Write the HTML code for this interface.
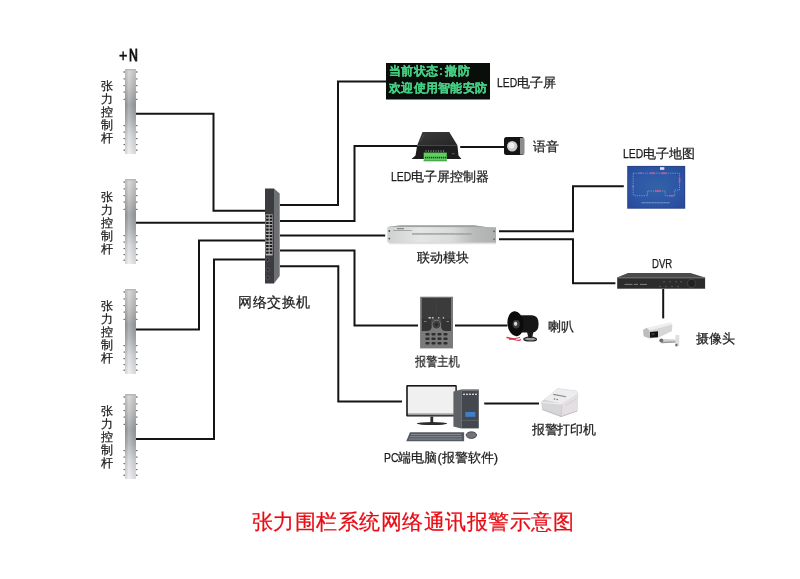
<!DOCTYPE html>
<html><head><meta charset="utf-8">
<style>
html,body{margin:0;padding:0;background:#fff;}
body{width:800px;height:579px;position:relative;overflow:hidden;font-family:"Liberation Sans",sans-serif;color:#1c1c1c;}
.t{position:absolute;white-space:nowrap;line-height:1;font-size:13px;-webkit-text-stroke-width:0.25px;will-change:transform;}
.vt{position:absolute;width:14px;font-size:12px;line-height:13px;text-align:center;color:#1c1c1c;-webkit-text-stroke-width:0.25px;will-change:transform;}
.lat{display:inline-block;transform:scaleX(.8);transform-origin:0 50%;}
svg{position:absolute;left:0;top:0;}
</style></head><body>
<svg width="800" height="579" viewBox="0 0 800 579">
<defs>
<linearGradient id="pg" x1="0" y1="0" x2="0" y2="1">
<stop offset="0" stop-color="#d6d6d6"/>
<stop offset="0.2" stop-color="#c2c2c2"/>
<stop offset="0.42" stop-color="#9ca0a4"/>
<stop offset="0.58" stop-color="#b0b3b6"/>
<stop offset="0.78" stop-color="#d8dadd"/>
<stop offset="1" stop-color="#f0f0f3"/>
</linearGradient>
<linearGradient id="ph" x1="0" y1="0" x2="1" y2="0">
<stop offset="0" stop-color="#000" stop-opacity="0.12"/>
<stop offset="0.35" stop-color="#fff" stop-opacity="0.15"/>
<stop offset="1" stop-color="#000" stop-opacity="0.1"/>
</linearGradient>
<g id="pole">
<rect x="0" y="0" width="11" height="85" fill="url(#pg)"/>
<rect x="0" y="0" width="11" height="85" fill="url(#ph)"/>
<rect x="0" y="0" width="11" height="1.5" fill="#b8b8b8"/>
<g fill="#707070">
<rect x="-1.5" y="2.3" width="1.5" height="1.4"/><rect x="11" y="2.3" width="1.5" height="1.4"/>
<rect x="-1.5" y="9.3" width="1.5" height="1.2"/><rect x="11" y="9.3" width="1.5" height="1.2"/>
<rect x="-1.5" y="16" width="1.5" height="1.2"/><rect x="11" y="16" width="1.5" height="1.2"/>
<rect x="-1.5" y="22.5" width="1.5" height="1.2"/><rect x="11" y="22.5" width="1.5" height="1.2"/>
<rect x="-1.5" y="29.8" width="1.5" height="1.2"/><rect x="11" y="29.8" width="1.5" height="1.2"/>
<rect x="-1.5" y="56" width="1.5" height="1.2"/><rect x="11" y="56" width="1.5" height="1.2"/>
<rect x="-1.5" y="62.5" width="1.5" height="1.2"/><rect x="11" y="62.5" width="1.5" height="1.2"/>
<rect x="-1.5" y="69" width="1.5" height="1.2"/><rect x="11" y="69" width="1.5" height="1.2"/>
<rect x="-1.5" y="75" width="1.5" height="1.2"/><rect x="11" y="75" width="1.5" height="1.2"/>
<rect x="-1.5" y="80.5" width="1.5" height="1.4"/><rect x="11" y="80.5" width="1.5" height="1.4"/>
</g>
</g>
<linearGradient id="modg" x1="0" y1="0" x2="1" y2="0">
<stop offset="0" stop-color="#cfd1d1"/>
<stop offset="0.3" stop-color="#e4e5e5"/>
<stop offset="0.6" stop-color="#d9dada"/>
<stop offset="0.8" stop-color="#b9bbbb"/>
<stop offset="1" stop-color="#aeb0b0"/>
</linearGradient>
<radialGradient id="mapg" cx="0.5" cy="0.5" r="0.7">
<stop offset="0" stop-color="#3363a6"/>
<stop offset="0.6" stop-color="#2d56a6"/>
<stop offset="1" stop-color="#28499a"/>
</radialGradient>
</defs>

<use href="#pole" x="125" y="69"/>
<use href="#pole" x="125" y="179"/>
<use href="#pole" x="125" y="289"/>
<use href="#pole" x="125" y="394"/>

<g fill="none" stroke="#141414" stroke-width="2">
<polyline points="136,113.8 213.5,113.8 213.5,210.8 265,210.8"/>
<polyline points="136,222.8 265,222.8"/>
<polyline points="136,329.5 199,329.5 199,240.4 265,240.4"/>
<polyline points="136,439 214,439 214,259.5 265,259.5"/>
<polyline points="280,205 338,205 338,81.5 386,81.5"/>
<polyline points="280,221 354.5,221 354.5,146 417,146"/>
<polyline points="280,235.6 385.2,235.6"/>
<polyline points="280,250.5 354.5,250.5 354.5,325.5 418,325.5"/>
<polyline points="280,266.2 338.3,266.2 338.3,401.6 402,401.6"/>
<polyline points="460.2,147 504,147"/>
<polyline points="499,231.3 573,231.3 573,186.2 623.8,186.2"/>
<polyline points="499,239.2 573,239.2 573,283.2 615.4,283.2"/>
<polyline points="663.2,289 663.2,318.4"/>
<polyline points="455,325.6 507.5,325.6"/>
<polyline points="484.2,403.5 539,403.5"/>
</g>

<!-- switch -->
<polygon points="265,188.5 274,188.5 274,283.5 265,283.5" fill="#3b3c3f"/>
<polygon points="274,188.5 279.7,193.6 279.7,276 274,283.5" fill="#6e6f72"/>
<rect x="265.6" y="214.4" width="7" height="41" fill="#b8b8b8"/>
<g fill="#161616">
<rect x="266.1" y="215.3" width="2.6" height="2.1"/><rect x="269.6" y="215.3" width="2.6" height="2.1"/>
<rect x="266.1" y="218.6" width="2.6" height="2.1"/><rect x="269.6" y="218.6" width="2.6" height="2.1"/>
<rect x="266.1" y="221.9" width="2.6" height="2.1"/><rect x="269.6" y="221.9" width="2.6" height="2.1"/>
<rect x="266.1" y="225.2" width="2.6" height="2.1"/><rect x="269.6" y="225.2" width="2.6" height="2.1"/>
<rect x="266.1" y="228.5" width="2.6" height="2.1"/><rect x="269.6" y="228.5" width="2.6" height="2.1"/>
<rect x="266.1" y="231.8" width="2.6" height="2.1"/><rect x="269.6" y="231.8" width="2.6" height="2.1"/>
<rect x="266.1" y="235.1" width="2.6" height="2.1"/><rect x="269.6" y="235.1" width="2.6" height="2.1"/>
<rect x="266.1" y="238.4" width="2.6" height="2.1"/><rect x="269.6" y="238.4" width="2.6" height="2.1"/>
<rect x="266.1" y="241.7" width="2.6" height="2.1"/><rect x="269.6" y="241.7" width="2.6" height="2.1"/>
<rect x="266.1" y="245.0" width="2.6" height="2.1"/><rect x="269.6" y="245.0" width="2.6" height="2.1"/>
<rect x="266.1" y="248.3" width="2.6" height="2.1"/><rect x="269.6" y="248.3" width="2.6" height="2.1"/>
<rect x="266.1" y="251.6" width="2.6" height="2.1"/><rect x="269.6" y="251.6" width="2.6" height="2.1"/>
</g>
<g fill="#1e1e1e" stroke="#6a6a6a" stroke-width="0.8">
<circle cx="267.7" cy="259.7" r="1.6"/><circle cx="267.7" cy="269.7" r="1.6"/><circle cx="267.7" cy="277.7" r="1.6"/>
</g>

<!-- LED screen -->
<rect x="386" y="63" width="104" height="36.5" fill="#0a0e0b"/>

<!-- controller -->
<linearGradient id="ctg" x1="0" y1="0" x2="1" y2="1"><stop offset="0" stop-color="#3a3a3a"/><stop offset="1" stop-color="#262626"/></linearGradient>
<polygon points="422.5,131.9 449.3,131.9 457.4,145.3 417.2,145.3" fill="url(#ctg)"/>
<polygon points="417.2,145.3 457.4,145.3 458.5,155.5 461.5,159.1 411.5,159.1 415.5,155.5" fill="#1d1d1d"/>
<line x1="424.5" y1="134" x2="420" y2="142" stroke="#5a5a5a" stroke-width="0.5"/>
<rect x="423.7" y="152.6" width="23.1" height="8.6" fill="#5ccf60"/>
<rect x="423.7" y="160" width="23.1" height="1.2" fill="#4aa84e"/>
<g fill="#1f3f20">
<rect x="425" y="156.8" width="1.3" height="1.6"/><rect x="427" y="156.8" width="1.3" height="1.6"/><rect x="429" y="156.8" width="1.3" height="1.6"/><rect x="431" y="156.8" width="1.3" height="1.6"/><rect x="433" y="156.8" width="1.3" height="1.6"/><rect x="435" y="156.8" width="1.3" height="1.6"/><rect x="437" y="156.8" width="1.3" height="1.6"/><rect x="439" y="156.8" width="1.3" height="1.6"/><rect x="441" y="156.8" width="1.3" height="1.6"/><rect x="443" y="156.8" width="1.3" height="1.6"/><rect x="445" y="156.8" width="1.2" height="1.6"/>
</g>
<g fill="#bdbdbd">
<rect x="425.5" y="150.5" width="1" height="1"/><rect x="428" y="150.5" width="1" height="1"/><rect x="430.5" y="150.5" width="1" height="1"/><rect x="433" y="150.5" width="1" height="1"/><rect x="435.5" y="150.5" width="1" height="1"/><rect x="438" y="150.5" width="1" height="1"/><rect x="440.5" y="150.5" width="1" height="1"/><rect x="443" y="150.5" width="1" height="1"/>
</g>
<rect x="452" y="153" width="2.5" height="1.2" fill="#555"/>
<!-- speaker -->
<rect x="504" y="137" width="20.2" height="18" rx="2.5" fill="#141414"/>
<rect x="520" y="138" width="4.2" height="16.5" fill="#8d8d8d"/>
<circle cx="512.2" cy="146.3" r="5.2" fill="#c9c9c9"/>
<circle cx="511.5" cy="145.5" r="3" fill="#efefef"/>

<!-- linkage module -->
<linearGradient id="mods" x1="0" y1="0" x2="0" y2="1"><stop offset="0" stop-color="#b8b8b8"/><stop offset="1" stop-color="#fff" stop-opacity="0"/></linearGradient>
<rect x="389" y="242.4" width="107" height="3" fill="url(#mods)"/>
<polygon points="400.7,225.2 474,225.2 485.5,227.1 496,227.2 496,242.6 387.3,242.6 387.3,227" fill="url(#modg)"/>
<polygon points="400.7,225.2 474,225.2 485.5,227.1 496,227.2 387.3,227.1" fill="#9fa2a2"/>
<rect x="412" y="233.3" width="60" height="1.3" fill="#8a8a8a" stroke="#d8d8d8" stroke-width="0.4" stroke-dasharray="1 0.8"/>
<rect x="397" y="228.3" width="7" height="0.9" fill="#666"/><rect x="393" y="230" width="19" height="0.8" fill="#999"/>
<circle cx="389.3" cy="231" r="0.9" fill="#555"/><circle cx="389.3" cy="238.6" r="0.9" fill="#555"/>
<circle cx="494" cy="231.4" r="0.8" fill="#555"/><circle cx="494" cy="239.2" r="0.8" fill="#555"/>

<!-- map -->
<rect x="627.2" y="165.9" width="58" height="42.8" fill="#2a4486"/>
<rect x="628.2" y="166.9" width="56" height="40.8" fill="url(#mapg)"/>
<polyline points="633.2,173.2 679.5,173.2 679.5,190.1 674.7,190.1 674.7,195.7 665.2,195.7 665.2,191 647.5,191 647.5,195.7 637.6,195.7 633.2,195 633.2,173.2" fill="none" stroke="#78aed0" stroke-width="0.9" stroke-dasharray="1.3 1" opacity="0.85"/>
<g fill="#c95a98" opacity="0.85">
<rect x="650" y="172.4" width="5" height="1.7"/><rect x="661.5" y="172.3" width="5" height="1.9"/><rect x="678.7" y="178" width="1.7" height="4"/><rect x="655" y="190.2" width="6" height="1.7"/><rect x="669" y="195" width="5" height="1.6"/><rect x="632.4" y="185" width="1.6" height="3"/><rect x="639" y="172.5" width="3" height="1.4"/>
</g>
<rect x="660" y="167.2" width="4.3" height="2.6" fill="#dfe6f2"/>
<rect x="641" y="202" width="29" height="1.4" fill="#9ab2dc" opacity="0.6" stroke="#2a52a3" stroke-width="0.5" stroke-dasharray="2 1"/>
<!-- DVR -->
<polygon points="628,273.1 690.4,273.1 705.1,277.6 616.9,277.6" fill="#4b4b4b"/>
<rect x="617.2" y="277.6" width="87.9" height="11.1" fill="#2c2c2c"/>
<rect x="617.2" y="277.6" width="87.9" height="1" fill="#585858"/>
<g fill="#8c8c8c">
<rect x="624.5" y="283.9" width="8" height="0.9"/><rect x="634" y="283.9" width="4" height="0.9"/><rect x="640" y="283.9" width="7" height="0.9"/>
</g>
<g fill="#6a6a6a">
<circle cx="664" cy="281.8" r="0.7"/><circle cx="670" cy="281.8" r="0.7"/><circle cx="676" cy="281.8" r="0.7"/><circle cx="681" cy="281.8" r="0.7"/>
<circle cx="660" cy="286.5" r="0.7"/><circle cx="666" cy="286.5" r="0.7"/><circle cx="672" cy="286.5" r="0.7"/><circle cx="678" cy="286.5" r="0.7"/>
</g>
<circle cx="691.6" cy="283.4" r="4.2" fill="#222" stroke="#4a4a4a" stroke-width="0.8"/>

<!-- camera -->
<polygon points="660.5,338.8 676,339.6 676.5,342.6 661.5,343.2" fill="#d2d2d2"/>
<polygon points="661.5,341.8 676.5,341.2 676.5,342.6 661.5,343.2" fill="#9a9a9a"/>
<rect x="675.4" y="335" width="3.9" height="11.3" rx="0.8" fill="#dedede"/>
<rect x="675.4" y="343.8" width="2" height="2.5" fill="#6a6a6a"/>
<circle cx="661.3" cy="340.5" r="2" fill="#6f6f6f"/>
<polygon points="646.8,327.8 670.5,322.2 672.4,324.4 649.5,330.6" fill="#eeeeee"/>
<polygon points="649.5,330.6 672.4,324.4 671.8,331.2 658.6,337.6 649.5,338.6" fill="#d6d6d6"/>
<polygon points="643,330 646.8,327.8 649.5,330.6 649.5,338.6 643.6,336.2" fill="#bdbdbd"/>
<polygon points="649.9,331.9 658,331.2 658,337.2 649.9,337.8" fill="#111"/>
<rect x="651.5" y="333.2" width="3" height="2" fill="#3a3a3a"/>
<!-- alarm host -->
<rect x="420.1" y="296.7" width="32.9" height="51.7" fill="#7a7a7a"/>
<rect x="421.8" y="297.9" width="29.2" height="22" fill="#3b3b3b"/>
<rect x="436" y="298.5" width="0.6" height="18" fill="#454545"/>
<path d="M421.8,319 L431.8,319 L431.8,326 Q431.8,331 427,331 L421.8,331 Z" fill="#333"/>
<path d="M451,319 L441,319 L441,326 Q441,331 445.8,331 L451,331 Z" fill="#333"/>
<path d="M431.5,319 L441.3,319 L441.3,323 Q436.4,330 431.5,323 Z" fill="#4a4a4a"/>
<circle cx="436.4" cy="324.6" r="4.3" fill="#3e3e3e" stroke="#8a8a8a" stroke-width="0.7"/>
<circle cx="436.4" cy="324.6" r="1.6" fill="#2a2a2a"/>
<g fill="#d8d8d8"><rect x="428.5" y="317.2" width="2.5" height="1.3"/><rect x="432" y="317.2" width="1.6" height="1.3"/><rect x="438" y="317.2" width="1.3" height="1.3"/><rect x="442.8" y="317.2" width="1.3" height="1.3"/></g>
<rect x="424" y="321" width="2.5" height="1" fill="#6a8a6a"/><rect x="446.5" y="321" width="2.5" height="1" fill="#8a8a5a"/>
<g fill="#2e2e2e">
<rect x="425.5" y="333" width="4" height="2.5" rx="0.8"/><rect x="431.5" y="333" width="4" height="2.5" rx="0.8"/><rect x="437.5" y="333" width="4" height="2.5" rx="0.8"/><rect x="443.5" y="333" width="4" height="2.5" rx="0.8"/>
<rect x="425.5" y="337.5" width="4" height="2.5" rx="0.8"/><rect x="431.5" y="337.5" width="4" height="2.5" rx="0.8"/><rect x="437.5" y="337.5" width="4" height="2.5" rx="0.8"/><rect x="443.5" y="337.5" width="4" height="2.5" rx="0.8"/>
<rect x="425.5" y="342" width="4" height="2.5" rx="0.8"/><rect x="431.5" y="342" width="4" height="2.5" rx="0.8"/><rect x="437.5" y="342" width="4" height="2.5" rx="0.8"/><rect x="443.5" y="342" width="4" height="2.5" rx="0.8"/>
</g>
<!-- horn -->
<path d="M524,338.5 Q530,335 536,338.5 Q538,341 530.5,341 Q523,341 524,338.5 Z" fill="#9a9a9a" stroke="#1e1e1e" stroke-width="1.2"/>
<path d="M527,332 L528.5,338 L532,338 L533.5,332 Z" fill="#1a1a1a"/>
<path d="M521,315.2 L532,315.2 Q538.6,315.5 538.6,323.8 Q538.6,332.4 532,332.6 L521,332.6 Z" fill="#161616"/>
<path d="M506.5,337.5 Q512,338.5 516,340 Q519,341 521,339.5" stroke="#d8344c" stroke-width="1.3" fill="none"/>
<path d="M509,339.5 Q514,339 520,337.5" stroke="#c02838" stroke-width="0.9" fill="none"/>
<ellipse cx="515.5" cy="323.7" rx="8" ry="12.5" transform="rotate(-6 515.5 323.7)" fill="#0c0c0c"/>
<ellipse cx="516.2" cy="324.2" rx="3.6" ry="4.2" fill="#3c3c3c"/>
<ellipse cx="515.6" cy="323.8" rx="1.7" ry="2.1" fill="#d8d8d8"/>
<!-- PC -->
<rect x="406.2" y="385.1" width="50.6" height="31.5" rx="1" fill="#161616"/>
<rect x="407.8" y="386.6" width="47.6" height="27.2" fill="#f0f0f0"/>
<rect x="407.8" y="413.8" width="47.6" height="1.5" fill="#9a9a9a"/>
<rect x="430.4" y="416.6" width="2.8" height="6.2" fill="#2c2c2c"/>
<ellipse cx="432" cy="423.6" rx="15.2" ry="1.5" fill="#2c2c2c"/>
<polygon points="453.4,391.5 461.3,389.6 461.3,428.4 453.4,426.5" fill="#5e6166"/>
<rect x="461.3" y="389.6" width="17.5" height="38.8" fill="#44474d"/>
<rect x="461.3" y="389.6" width="17.5" height="1.5" fill="#70737a"/>
<g fill="#cfd3d8"><rect x="463" y="393.6" width="2" height="1.4"/><rect x="466" y="393.6" width="2" height="1.4"/><rect x="469" y="393.6" width="2" height="1.4"/><rect x="472" y="393.6" width="2" height="1.4"/><rect x="475" y="393.6" width="2" height="1.4"/></g>
<rect x="465.3" y="412" width="10" height="4.8" fill="#3d7fcb"/>
<rect x="462" y="420" width="16" height="1" fill="#5b5e64"/>
<polygon points="410,432.3 464.1,432.3 464.1,441.3 406.2,441.3" fill="#555a62"/>
<g fill="#9aa0a8" opacity="0.8">
<rect x="411" y="434" width="50" height="0.9"/><rect x="410" y="436.3" width="52" height="0.9"/><rect x="409" y="438.6" width="53" height="0.9"/>
</g>
<ellipse cx="471.4" cy="435.1" rx="5.2" ry="3.3" fill="#6f7378" stroke="#333" stroke-width="0.8"/>

<!-- printer -->
<polygon points="541.6,402 557.8,388.6 576.4,391 577.8,393.7 577.1,411 561.2,416.5 542.6,409.6" fill="#d6d6d8" stroke="#c4c4c6" stroke-width="0.6"/>
<polygon points="543.3,399.3 557.8,388.6 576.4,391 577.8,393.7 562,404.1" fill="#ededef"/>
<polygon points="562,404.1 577.8,393.7 577.1,411 561.2,416.5" fill="#e4dfe2"/>
<polygon points="542,402.5 562,404.1 561.2,416.5 542.6,409.6" fill="#d6d6d8"/>
<line x1="542.6" y1="409.6" x2="561.2" y2="416.5" stroke="#b8b8ba" stroke-width="0.8"/><line x1="561.2" y1="416.5" x2="577.1" y2="411" stroke="#bdb8bb" stroke-width="0.8"/><line x1="542" y1="402.5" x2="562" y2="404.1" stroke="#f6f6f6" stroke-width="0.8"/>
<line x1="562" y1="404.1" x2="561.2" y2="416.5" stroke="#c8c8ca" stroke-width="0.6"/>
<line x1="553.3" y1="394.4" x2="566.1" y2="396.8" stroke="#8a8a8a" stroke-width="1.1"/>
<circle cx="554.5" cy="399" r="0.8" fill="#777"/><circle cx="557.2" cy="399.5" r="0.8" fill="#777"/>
<line x1="565" y1="405.5" x2="576" y2="399" stroke="#d0cacd" stroke-width="0.8"/>
</svg>

<div class="t" style="left:118.5px;top:47px;font-size:17px;color:#111;-webkit-text-stroke-width:0.5px"><span style="display:inline-block;transform:scaleX(.85);transform-origin:0 50%">+</span></div><div class="t" style="left:128.5px;top:47px;font-size:17px;color:#111;-webkit-text-stroke-width:1.1px"><span style="display:inline-block;transform:scaleX(.72);transform-origin:0 50%">N</span></div>
<div class="vt" style="left:100px;top:80px">张<br>力<br>控<br>制<br>杆</div>
<div class="vt" style="left:100px;top:191px">张<br>力<br>控<br>制<br>杆</div>
<div class="vt" style="left:100px;top:299.5px">张<br>力<br>控<br>制<br>杆</div>
<div class="vt" style="left:100px;top:404.5px">张<br>力<br>控<br>制<br>杆</div>

<div class="t" style="left:389px;top:65px;font-size:12px;font-weight:bold;letter-spacing:0.25px;color:#45cf84;-webkit-text-stroke-width:0.2px">当前状态<span style="margin:0 2px 0 1px">:</span>撤防</div>
<div class="t" style="left:389px;top:82px;font-size:12px;font-weight:bold;letter-spacing:0.25px;color:#45cf84;-webkit-text-stroke-width:0.2px">欢迎使用智能安防</div>
<div class="t" style="left:497px;top:76px"><span class="lat" style="margin-right:-5px">LED</span>电子屏</div>
<div class="t" style="left:533px;top:140px">语音</div>
<div class="t" style="left:391px;top:170px"><span class="lat" style="margin-right:-5px">LED</span>电子屏控制器</div>
<div class="t" style="left:417px;top:251px">联动模块</div>
<div class="t" style="left:238px;top:295px;font-size:14px;letter-spacing:0.5px">网络交换机</div>
<div class="t" style="left:623px;top:147px"><span class="lat" style="margin-right:-5px">LED</span>电子地图</div>
<div class="t" style="left:652px;top:258px;font-size:12px"><span class="lat">DVR</span></div>
<div class="t" style="left:696px;top:332px">摄像头</div>
<div class="t" style="left:547.5px;top:320px">喇叭</div>
<div class="t" style="left:415px;top:355px;transform:scaleX(.86);transform-origin:0 0">报警主机</div>
<div class="t" style="left:384px;top:451px"><span class="lat" style="margin-right:-3.6px">PC</span>端电脑(报警软件)</div>
<div class="t" style="left:532px;top:423px;letter-spacing:-0.35px">报警打印机</div>
<div class="t" style="left:252px;top:512px;font-size:20.5px;letter-spacing:0.47px;color:#e80c14">张力围栏系统网络通讯报警示意图</div>
</body></html>
